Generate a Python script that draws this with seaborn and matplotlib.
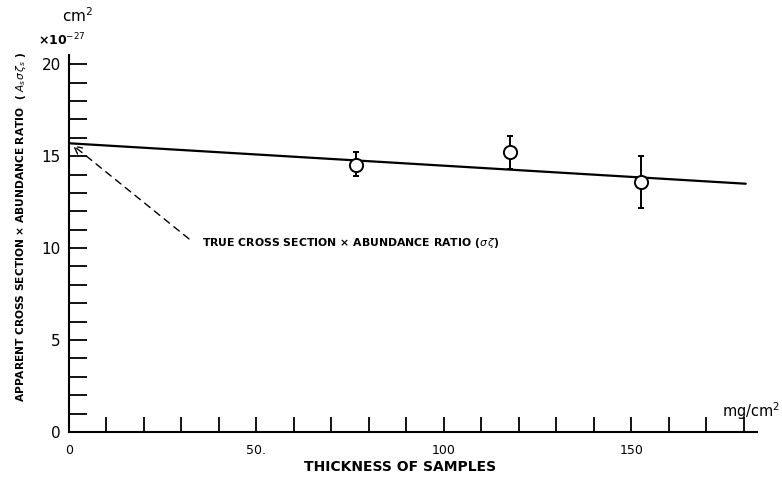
import matplotlib
matplotlib.use("Agg")
import matplotlib.pyplot as plt
import seaborn as sns
import pandas as pd
import numpy as np

# ---- data ----
thickness = [76.5, 117.5, 152.5]          # mg/cm^2
cross_section = [14.5, 15.2, 13.6]         # x1e-27 cm^2
err_low = [13.9, 14.3, 12.2]
err_high = [15.2, 16.1, 15.0]

fit_x = [0, 180.5]
fit_y = [15.7, 13.5]

true_value = 15.6          # extrapolated to zero thickness

y_tick_labels = ["0", "5", "10", "15", "20"]
x_tick_labels = ["0", "50.", "100", "150"]

sns.set_theme(style="ticks")
plt.rcParams["font.family"] = ["DejaVu Sans"]
plt.rcParams["text.color"] = "black"
plt.rcParams["axes.labelcolor"] = "black"

fig = plt.figure(figsize=(7.82, 4.82), dpi=100)
ax = fig.add_axes([69 / 782, 50 / 482, (757 - 69) / 782, (432 - 55) / 482])

pts = pd.DataFrame({"thickness": thickness, "value": cross_section})
fit = pd.DataFrame({"x": fit_x, "y": fit_y})

sns.lineplot(data=fit, x="x", y="y", ax=ax, color="black", lw=1.6)
yerr = np.array([np.array(cross_section) - np.array(err_low),
                 np.array(err_high) - np.array(cross_section)])
ax.errorbar(thickness, cross_section, yerr=yerr, fmt="none", ecolor="black",
            elinewidth=1.4, capsize=2, capthick=1.4, zorder=3)
sns.scatterplot(data=pts, x="thickness", y="value", ax=ax, s=90,
                facecolor="white", edgecolor="black", linewidth=1.4, zorder=4)

ax.set_xlim(0, 183.5)
ax.set_ylim(0, 20.5)

sns.despine(ax=ax)
for s in ["left", "bottom"]:
    ax.spines[s].set_linewidth(1.5)
    ax.spines[s].set_color("black")

# y ticks every unit, labels every 5
yt = list(range(0, 21))
ax.set_yticks(yt)
ax.set_yticklabels([y_tick_labels[v // 5] if v % 5 == 0 else "" for v in yt])
ax.tick_params(axis="y", direction="in", length=13, width=1.3, pad=6,
               labelsize=11, colors="black")

xt = list(range(0, 181, 10))
ax.set_xticks(xt)
lab = []
for v in xt:
    if v % 50 == 0:
        lab.append(x_tick_labels[v // 50])
    else:
        lab.append("")
ax.set_xticklabels(lab)
ax.tick_params(axis="x", direction="in", length=11, width=1.3, pad=9,
               labelsize=9, colors="black")

ax.set_xlabel("THICKNESS OF SAMPLES", fontsize=10, fontweight="bold")
ax.xaxis.set_label_coords((400 - 69) / (757 - 69), -0.075)
ax.set_ylabel(r"APPARENT CROSS SECTION × ABUNDANCE RATIO  ( $A_s\sigma\,\zeta_s$ )",
              fontsize=7.7, fontweight="bold")
ax.yaxis.set_label_coords(-0.06, 0.544)

# annotation for true cross section
ax.annotate("", xy=(1.0, true_value), xytext=(32, 10.5),
            arrowprops=dict(arrowstyle="->", color="black", lw=1.0,
                            linestyle=(0, (5, 4)), shrinkA=0, shrinkB=0,
                            mutation_scale=14))
ax.text(35.5, 10.3, r"TRUE CROSS SECTION × ABUNDANCE RATIO ($\sigma\,\zeta$)",
        fontsize=7.8, fontweight="bold", va="center", ha="left")

# units
fig.text(78 / 782, 1 - 16 / 482, r"cm$^2$", fontsize=11, ha="center", va="center")
fig.text(62 / 782, 1 - 40 / 482, r"×10$^{-27}$", fontsize=9, ha="center",
         va="center", fontweight="bold")
fig.text(780 / 782, 1 - 411 / 482, r"mg/cm$^2$", fontsize=10.5, ha="right",
         va="center")

fig.savefig("out.png", dpi=100)
